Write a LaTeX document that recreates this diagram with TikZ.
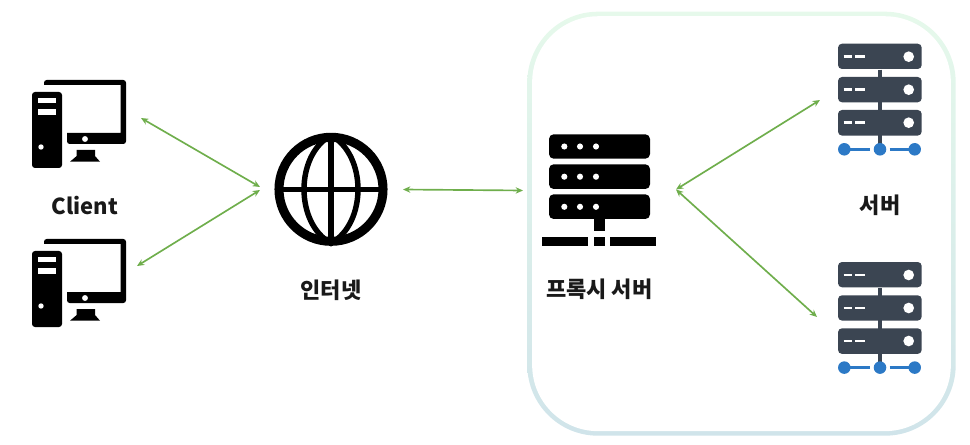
\documentclass[tikz,border=0pt]{standalone}
\usepackage{fontspec}
\setmainfont{Noto Sans CJK KR}
\usetikzlibrary{arrows.meta,positioning}
\definecolor{LinkGreen}{HTML}{6FAE4C}
\definecolor{RackSlate}{HTML}{3B4552}
\definecolor{BusBlue}{HTML}{2C79C6}
\definecolor{ZoneMint}{HTML}{E6F9EB}
\definecolor{ZoneIce}{HTML}{D0E4EA}
\tikzset{
  clientbox/.style={minimum width=70.5pt,minimum height=66pt,inner sep=0pt},
  globebox/.style={circle,minimum size=85pt,inner sep=0pt},
  proxybox/.style={minimum width=85.5pt,minimum height=84pt,inner sep=0pt},
  serverbox/.style={minimum width=63pt,minimum height=84pt,inner sep=0pt},
  iconlabel/.style={font=\fontsize{16.5pt}{18pt}\selectfont\bfseries,minimum height=24pt,inner sep=0pt,text=black!90},
  linkarrow/.style={{Stealth[length=5.5pt,width=4.8pt]}-{Stealth[length=5.5pt,width=4.8pt]},line width=1.25pt,draw=LinkGreen},
  clienticon/.pic={
    \fill[rounded corners=2.25pt] (-47,-32) rectangle (-17,44);
    \fill[white] (-41,-26) rectangle (-23,-21);
    \fill[white] (-41,-15) rectangle (-23,-9);
    \fill[white] (-38,23) circle (2pt);
    \fill[rounded corners=2pt] (-35,-39) -- (-35,-44) -- (47,-44) -- (47,20) -- (-12,20)
      [sharp corners] -- (-12,9) -- (41.7,9) -- (41.7,-39) -- cycle;
    \fill[white] (6,15) circle (2.2pt);
    \fill (-2.3,26) -- (16,26) -- (16,32) -- (21,37.7) -- (-9,37.7) -- (-2.3,32) -- cycle;
  },
  globeicon/.pic={
    \draw[line width=6.8pt] (0,0) circle (52);
    \draw[line width=4.1pt] (-52,0) -- (52,0);
    \draw[line width=4.1pt] (0,-52) -- (0,52);
    \draw[line width=4.1pt] (0,-54) .. controls (-36,-34) and (-36,34) .. (0,54)
      .. controls (36,34) and (36,-34) .. (0,-54);
  },
  proxyicon/.pic={
    \foreach \rowtop/\rowbot/\rowdot in {-55.7/-31.3/-43.5,-25.7/-1/-13.3,4.3/29/16.8}{
      \fill[rounded corners=3.5pt] (-50.3,\rowtop) rectangle (50.7,\rowbot);
      \foreach \dotx in {-35,-19.3,-3.3}
        \fill[white] (\dotx,\rowdot) circle (2.3pt);
    }
    \fill (-5.3,29) rectangle (5.4,41);
    \fill (-57,47) rectangle (-11,56);
    \fill (-5.3,47) rectangle (5.4,56);
    \fill (11,47) rectangle (56.7,56);
  },
  servericon/.pic={
    \draw[RackSlate,line width=2.4pt] (0,-30) -- (0,44);
    \foreach \rowtop/\rowbot/\rowmid in {-56/-30.7/-43,-22.7/2.6/-10,10.3/35.9/23}{
      \fill[RackSlate,rounded corners=3pt] (-42,\rowtop) rectangle (41.7,\rowbot);
      \draw[white,line width=2pt] (-36.3,\rowmid) -- (-27.7,\rowmid);
      \draw[white,line width=2pt] (-24.7,\rowmid) -- (-15,\rowmid);
      \fill[white] (28.7,\rowmid) circle (4pt);
    }
    \draw[BusBlue,line width=2.2pt] (-35.7,49.6) -- (-10,49.6);
    \draw[BusBlue,line width=2.2pt] (9.7,49.6) -- (34.7,49.6);
    \foreach \dotx in {-35.7,0,34.7}
      \fill[BusBlue] (\dotx,49.6) circle (4.7pt);
  }
}
\begin{document}
\begin{tikzpicture}[x=0.75pt,y=-0.75pt]
  \useasboundingbox (0,0) rectangle (970,445);

  \node[minimum width=321.3pt,minimum height=318pt,inner sep=0pt,rounded corners=53pt,top color=ZoneMint,bottom color=ZoneIce] (zoneouter) at (741.5,223.7) {};
  \node[minimum width=314pt,minimum height=311.2pt,inner sep=0pt,rounded corners=49.5pt,fill=white] (zoneinner) at (zoneouter.center) {};

  \node[clientbox] (clienta) at (79,124) {};
  \node[clientbox] (clientb) at (79,283) {};
  \node[globebox] (globe) at (331,189.3) {};
  \node[proxybox] (proxy) at (599.3,190) {};
  \node[serverbox] (servera) at (880,99.7) {};
  \node[serverbox] (serverb) at (880,318) {};

  \pic at (clienta) {clienticon};
  \pic at (clientb) {clienticon};
  \pic at (globe) {globeicon};
  \pic at (proxy) {proxyicon};
  \pic at (servera) {servericon};
  \pic at (serverb) {servericon};

  \node[iconlabel,below=15.75pt of clienta,xshift=4.5pt] (clientlabel) {Client};
  \node[iconlabel,below=20.6pt of globe] (globelabel) {인터넷};
  \node[iconlabel,below=20.25pt of proxy] (proxylabel) {프록시 서버};
  \node[iconlabel,below=25pt of servera] (serverlabel) {서버};

  \coordinate (clientaport) at (141,118);
  \coordinate (clientbport) at (137,266);
  \coordinate (globewesta) at (260,187);
  \coordinate (globewestb) at (260,190);
  \coordinate (globeeast) at (403,189.5);
  \coordinate (proxywest) at (523,190.5);
  \coordinate (proxyeast) at (676,189.5);
  \coordinate (serveraport) at (820,100);
  \coordinate (serverbport) at (817,317);

  \draw[linkarrow] (clientaport) -- (globewesta);
  \draw[linkarrow] (clientbport) -- (globewestb);
  \draw[linkarrow] (globeeast) -- (proxywest);
  \draw[linkarrow] (proxyeast) -- (serveraport);
  \draw[linkarrow] (proxyeast) -- (serverbport);
\end{tikzpicture}
\end{document}
